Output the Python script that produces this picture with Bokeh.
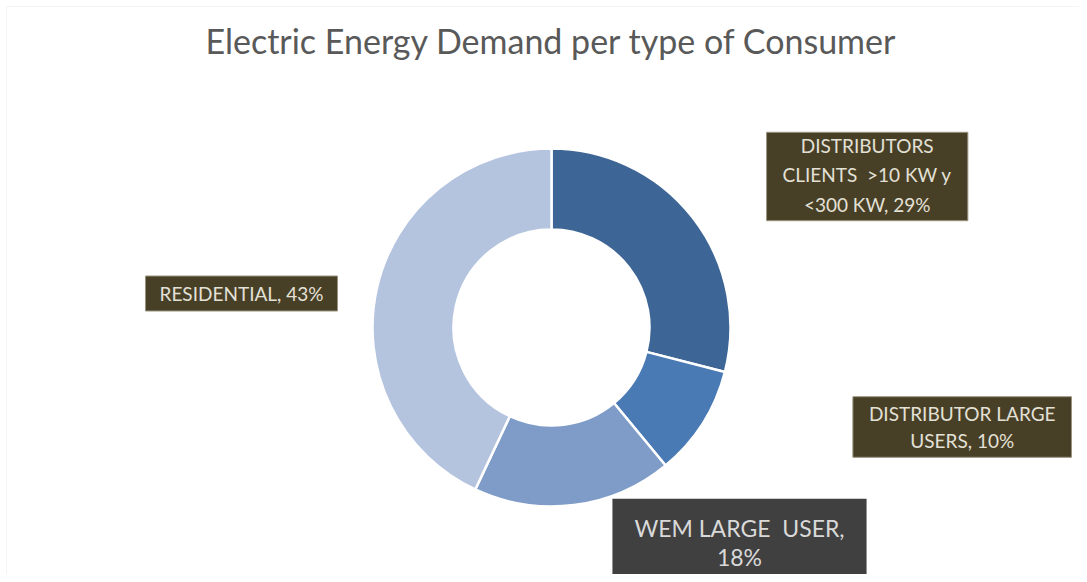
from bokeh.plotting import figure
from bokeh.models import Range1d, Label, ColumnDataSource, BoxAnnotation
from bokeh.embed import file_html
from bokeh.resources import INLINE
import math

title_text = "Electric Energy Demand per type of Consumer"
categories = ["DISTRIBUTORS CLIENTS >10 KW y <300 KW", "DISTRIBUTOR LARGE USERS",
              "WEM LARGE USER", "RESIDENTIAL"]
shares = [29, 10, 18, 43]
colors = ["#3D6595", "#4A7AB4", "#7F9CC8", "#B4C4DE"]
label_texts = ["DISTRIBUTORS\nCLIENTS\u00a0 >10 KW y\n<300 KW, 29%",
               "DISTRIBUTOR LARGE\nUSERS, 10%",
               "WEM LARGE\u00a0 USER,\n18%",
               "RESIDENTIAL, 43%"]

W, H = 1079, 574
p = figure(width=W, height=H, output_backend="svg", toolbar_location=None,
           x_range=Range1d(0, W), y_range=Range1d(0, H), min_border=0)
p.axis.visible = False
p.xgrid.visible = False
p.ygrid.visible = False
p.outline_line_color = None
p.background_fill_color = "white"
p.border_fill_color = "white"

# chart-area frame
p.add_layout(BoxAnnotation(left=6, right=W + 20, top=H - 6, bottom=-20,
                           fill_color=None, line_color="#D9D9D9", line_width=1))

cx, cy = 551, 247
r_in, r_out = 98, 179
total = sum(shares)
starts, ends = [], []
cum = 0
for v in shares:
    a0 = math.pi / 2 - 2 * math.pi * cum / total
    a1 = math.pi / 2 - 2 * math.pi * (cum + v) / total
    starts.append(a0)
    ends.append(a1)
    cum += v
src = ColumnDataSource(dict(start=starts, end=ends, color=colors, cat=categories))
p.annular_wedge(x=cx, y=cy, inner_radius=r_in, outer_radius=r_out,
                start_angle="start", end_angle="end", direction="clock",
                fill_color="color", line_color="white", line_width=2.5, source=src)

p.add_layout(Label(x=551, y=534, text=title_text, text_align="center",
                   text_baseline="alphabetic", text_font="Lato", text_font_size="34px",
                   text_color="#595959"))

olive = "#483F27"
box_font = "Lato"
pos = [(866.7, 398), (961.7, 147.5), (739, 28.5), (241, 281)]
pads = [dict(left=16, right=16, top=2, bottom=5),
        dict(left=16, right=16, top=5, bottom=5),
        dict(left=22, right=22, top=15, bottom=22),
        dict(left=14, right=14, top=6, bottom=6)]
lh = [1.27, 1.2, 1.05, 1.2]
for i, t in enumerate(label_texts):
    x, y = pos[i]
    if i == 2:
        lab = Label(x=x, y=y, text=t, text_align="center", text_baseline="middle",
                    text_font="Lato", text_font_size="23px", text_color="#D9D9D9",
                    text_line_height=lh[i], background_fill_color="#404040",
                    padding=pads[i])
    else:
        lab = Label(x=x, y=y, text=t, text_align="center", text_baseline="middle",
                    text_font=box_font, text_font_size="19px", text_color="#E3E1D6",
                    text_line_height=lh[i], background_fill_color=olive,
                    border_line_color="#9A9580", border_line_width=1, padding=pads[i])
    p.add_layout(lab)

open("out.html", "w").write(file_html(p, INLINE))
